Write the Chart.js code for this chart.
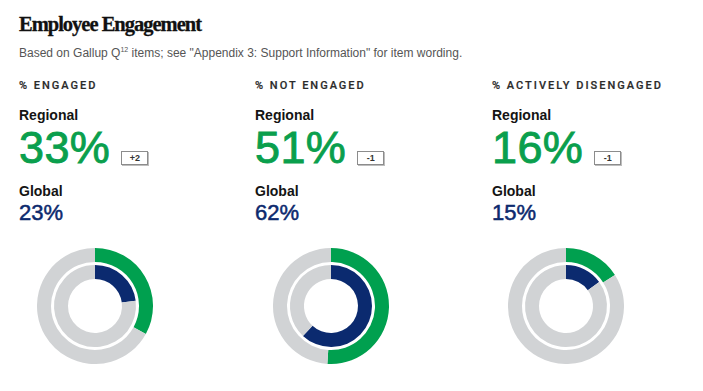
<!DOCTYPE html>
<html>
<head>
<meta charset="utf-8">
<script src="https://cdn.jsdelivr.net/npm/chart.js@4.4.1/dist/chart.umd.min.js"></script>
<style>
  html, body { margin:0; padding:0; background:#fff; }
  body { width:703px; height:391px; position:relative; overflow:hidden; font-family:"Liberation Sans", Arial, sans-serif; }
  .abs { position:absolute; white-space:nowrap; }
  #title { left:19px; top:14px; font-family:"Liberation Serif", serif; font-weight:bold; font-size:20.5px; line-height:20px; color:#111; letter-spacing:-1px; -webkit-text-stroke:0.3px #111; }
  #subtitle { left:19px; top:47px; font-size:12px; line-height:12px; color:#555; }
  #subtitle sup { font-size:7px; vertical-align:5px; line-height:0; }
  .cat { font-family:Roboto, "Liberation Sans", sans-serif; font-size:11px; line-height:11px; font-weight:500; letter-spacing:2px; color:#2b2b2b; -webkit-text-stroke:0.2px #2b2b2b; }
  .lbl { font-size:14px; line-height:14px; font-weight:bold; color:#141414; }
  .big { font-size:45px; line-height:44px; color:#0a9f4d; letter-spacing:0.4px; -webkit-text-stroke:0.9px #0a9f4d; }
  .badge { display:inline-block; position:relative; top:-2px; vertical-align:baseline; margin-left:11px; width:25px; height:12px; line-height:12px; border:1px solid #8c8c8c; box-shadow:1px 1px 0 #bdbdbd; font-size:9px; font-weight:bold; color:#333; text-align:center; letter-spacing:0; -webkit-text-stroke:0; }
  .glob { font-size:22px; line-height:21px; color:#0d2a6e; -webkit-text-stroke:0.5px #0d2a6e; }
  canvas { position:absolute; }
</style>
</head>
<body>
<div id="title" class="abs">Employee Engagement</div>
<div id="subtitle" class="abs">Based on Gallup Q<sup>12</sup> items; see "Appendix 3: Support Information" for item wording.</div>
<div id="cols"></div>
<script>
const categories = ['% ENGAGED', '% NOT ENGAGED', '% ACTIVELY DISENGAGED'];
const regionalValues = [33, 51, 16];
const globalValues = [23, 62, 15];
const changeLabels = ['+2', '-1', '-1'];
const regionalLabel = 'Regional';
const globalLabel = 'Global';

const colLeft = [19, 255, 492];
const donutLeft = [37, 273, 508];
const GREEN = '#00a04f';
const NAVY = '#0b2a6f';
const GRAY = '#d1d3d5';

const cols = document.getElementById('cols');
categories.forEach((cat, i) => {
  const x = colLeft[i];
  const add = (cls, top, html) => {
    const d = document.createElement('div');
    d.className = 'abs ' + cls;
    d.style.left = x + 'px';
    d.style.top = top + 'px';
    d.innerHTML = html;
    cols.appendChild(d);
    return d;
  };
  add('cat', 80, cat);
  add('lbl', 108, regionalLabel);
  add('big', 126, regionalValues[i] + '%<span class="badge">' + changeLabels[i] + '</span>');
  add('lbl', 184, globalLabel);
  add('glob', 202, globalValues[i] + '%');

  const c = document.createElement('canvas');
  c.width = 116; c.height = 116;
  c.style.left = donutLeft[i] + 'px';
  c.style.top = '248px';
  c.style.width = '116px'; c.style.height = '116px';
  document.body.appendChild(c);
  new Chart(c, {
    type: 'doughnut',
    data: {
      labels: ['Share', 'Rest'],
      datasets: [
        { data: [regionalValues[i], 100 - regionalValues[i]], backgroundColor: [GREEN, GRAY], borderWidth: 0, weight: 14 },
        { data: [1], backgroundColor: ['rgba(0,0,0,0)'], borderWidth: 0, weight: 3 },
        { data: [globalValues[i], 100 - globalValues[i]], backgroundColor: [NAVY, GRAY], borderWidth: 0, weight: 14 }
      ]
    },
    options: {
      responsive: false,
      devicePixelRatio: 1,
      animation: false,
      cutout: 27,
      layout: { padding: 0 },
      plugins: { legend: { display: false }, tooltip: { enabled: false } },
      events: []
    }
  });
});
</script>
</body>
</html>
